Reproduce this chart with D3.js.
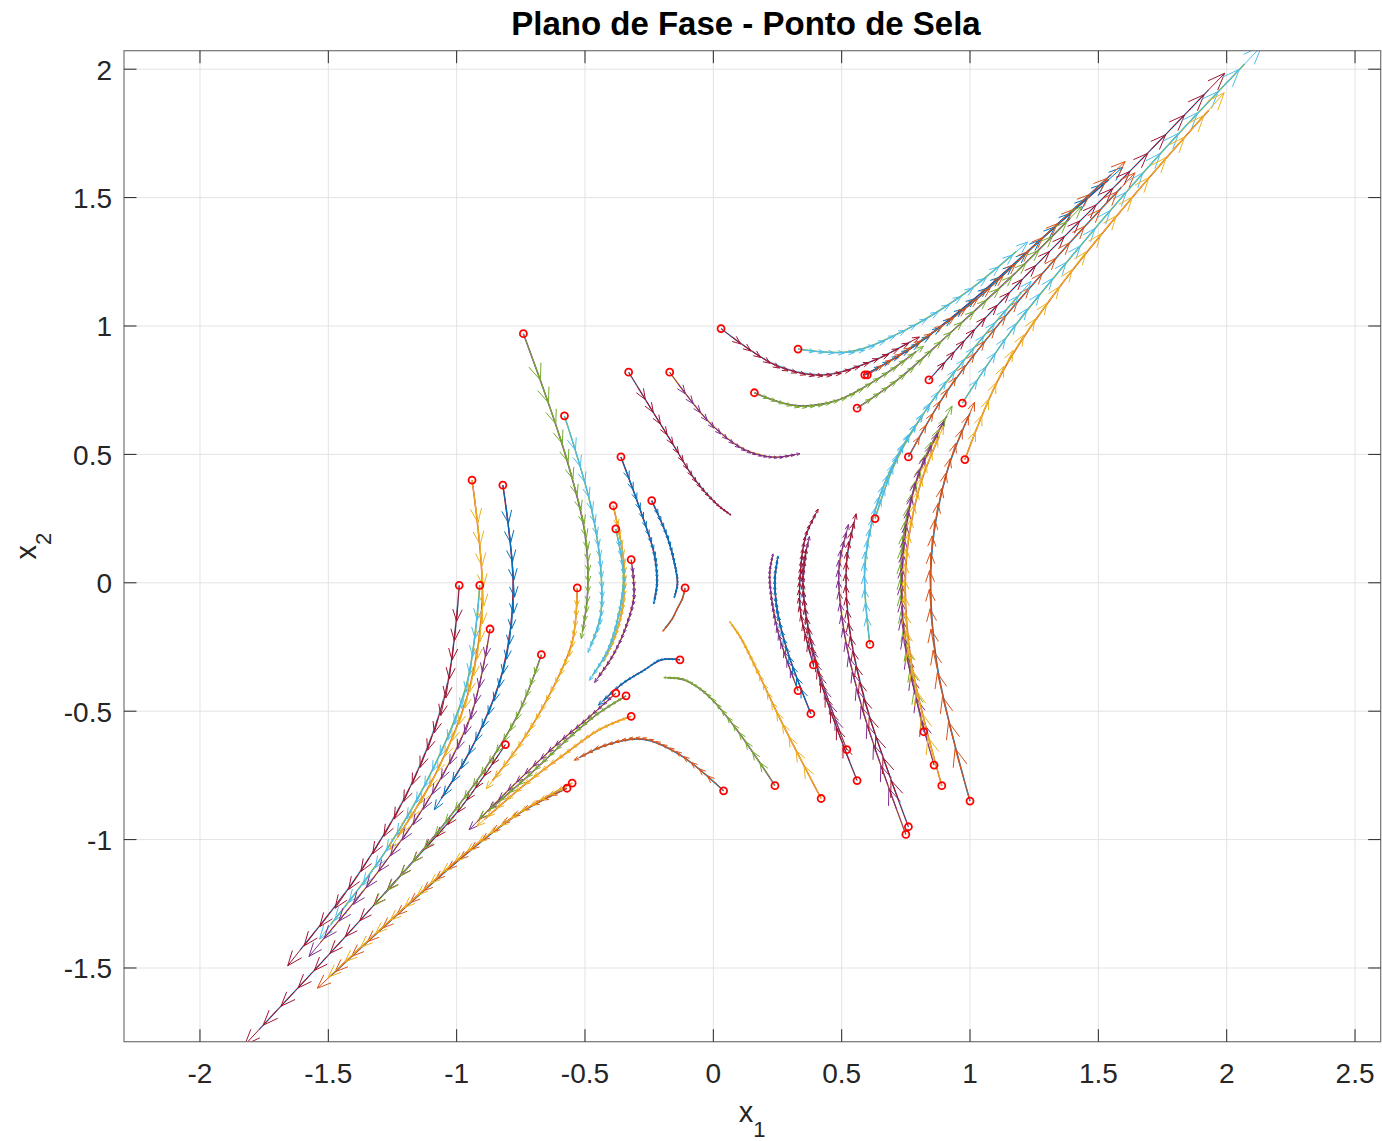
<!DOCTYPE html>
<html>
<head>
<meta charset="utf-8">
<script src="https://cdn.jsdelivr.net/npm/d3@7"></script>
<style>
  body { margin: 0; background: #fff; }
  svg { display: block; }
</style>
</head>
<body>
<div id="chart"></div>
<script>
// matlab colour order
const colorOrder = ["#0072BD", "#D95319", "#EDB120", "#7E2F8E", "#77AC30", "#4DBEEE", "#A2142F"];
const xTicks = [-2, -1.5, -1, -0.5, 0, 0.5, 1, 1.5, 2, 2.5];
const yTicks = [-1.5, -1, -0.5, 0, 0.5, 1, 1.5, 2];

// time of each read point along a trajectory
const trajT = [0, 0.225, 0.45, 0.675, 0.85];
// trajectories, first point = initial condition (red circle)
const trajX = [
  [-0.99, -1.04, -1.17, -1.38, -1.61],
  [-0.91, -0.96, -1.09, -1.28, -1.49],
  [-0.94, -0.90, -0.95, -1.08, -1.23],
  [-0.82, -0.78, -0.82, -0.93, -1.06],
  [-0.87, -0.94, -1.09, -1.31, -1.53],
  [-0.81, -0.98, -1.21, -1.50, -1.77],
  [-0.67, -0.76, -0.90, -1.09, -1.28],
  [-0.53, -0.55, -0.63, -0.74, -0.86],
  [-0.74, -0.58, -0.50, -0.49, -0.51],
  [-0.58, -0.48, -0.44, -0.44, -0.48],
  [-0.33, -0.17, -0.07, 0.01, 0.06],
  [-0.17, -0.01, 0.12, 0.23, 0.32],
  [-0.36, -0.28, -0.23, -0.22, -0.23],
  [-0.39, -0.35, -0.35, -0.38, -0.42],
  [-0.38, -0.35, -0.37, -0.41, -0.47],
  [-0.24, -0.18, -0.15, -0.14, -0.15],
  [-0.32, -0.31, -0.34, -0.39, -0.45],
  [-0.11, -0.12, -0.14, -0.16, -0.19],
  [-0.13, -0.20, -0.27, -0.35, -0.43],
  [-0.38, -0.48, -0.61, -0.77, -0.92],
  [-0.34, -0.45, -0.58, -0.73, -0.88],
  [-0.32, -0.44, -0.57, -0.74, -0.89],
  [-0.57, -0.76, -0.98, -1.24, -1.49],
  [-0.55, -0.73, -0.95, -1.21, -1.45],
  [0.04, -0.13, -0.27, -0.41, -0.52],
  [0.24, 0.09, -0.02, -0.11, -0.18],
  [0.42, 0.26, 0.17, 0.11, 0.07],
  [0.03, 0.24, 0.42, 0.61, 0.77],
  [0.33, 0.53, 0.74, 0.97, 1.18],
  [0.16, 0.32, 0.48, 0.65, 0.79],
  [0.59, 0.78, 1.01, 1.28, 1.54],
  [0.60, 0.79, 1.02, 1.29, 1.55],
  [0.56, 0.73, 0.92, 1.17, 1.39],
  [0.84, 1.04, 1.30, 1.63, 1.93],
  [0.97, 1.16, 1.42, 1.75, 2.07],
  [0.76, 0.90, 1.09, 1.34, 1.59],
  [0.98, 1.12, 1.34, 1.64, 1.93],
  [0.63, 0.71, 0.84, 1.02, 1.20],
  [0.61, 0.59, 0.63, 0.72, 0.82],
  [0.33, 0.26, 0.23, 0.22, 0.23],
  [0.38, 0.29, 0.25, 0.24, 0.25],
  [0.39, 0.34, 0.34, 0.36, 0.40],
  [0.52, 0.41, 0.36, 0.35, 0.37],
  [0.56, 0.43, 0.37, 0.35, 0.36],
  [0.82, 0.74, 0.74, 0.81, 0.91],
  [0.86, 0.75, 0.74, 0.79, 0.88],
  [0.89, 0.77, 0.75, 0.80, 0.88],
  [1.00, 0.87, 0.85, 0.91, 1.00],
  [0.75, 0.59, 0.51, 0.49, 0.52],
  [0.76, 0.60, 0.53, 0.52, 0.55]
];
const trajY = [
  [-0.01, -0.41, -0.77, -1.13, -1.43],
  [-0.01, -0.39, -0.72, -1.05, -1.33],
  [0.40, -0.05, -0.41, -0.74, -0.99],
  [0.38, -0.02, -0.34, -0.62, -0.84],
  [-0.18, -0.50, -0.81, -1.13, -1.40],
  [-0.63, -0.87, -1.13, -1.45, -1.74],
  [-0.28, -0.51, -0.74, -0.99, -1.21],
  [-0.02, -0.23, -0.42, -0.61, -0.77],
  [0.97, 0.51, 0.19, -0.04, -0.19],
  [0.65, 0.31, 0.07, -0.13, -0.25],
  [0.82, 0.56, 0.40, 0.31, 0.27],
  [0.82, 0.62, 0.52, 0.49, 0.50],
  [0.49, 0.27, 0.11, 0.00, -0.07],
  [0.30, 0.09, -0.07, -0.20, -0.29],
  [0.21, 0.02, -0.13, -0.26, -0.36],
  [0.32, 0.18, 0.07, 0.00, -0.05],
  [0.09, -0.05, -0.17, -0.28, -0.37],
  [-0.02, -0.06, -0.10, -0.14, -0.18],
  [-0.30, -0.30, -0.34, -0.39, -0.46],
  [-0.43, -0.52, -0.63, -0.78, -0.93],
  [-0.44, -0.51, -0.62, -0.76, -0.89],
  [-0.52, -0.57, -0.66, -0.79, -0.92],
  [-0.80, -0.90, -1.07, -1.30, -1.53],
  [-0.78, -0.88, -1.04, -1.27, -1.49],
  [-0.81, -0.67, -0.61, -0.63, -0.68],
  [-0.79, -0.57, -0.44, -0.38, -0.37],
  [-0.84, -0.53, -0.34, -0.22, -0.16],
  [0.99, 0.85, 0.81, 0.86, 0.94],
  [0.91, 0.90, 0.98, 1.12, 1.29],
  [0.74, 0.69, 0.71, 0.80, 0.90],
  [0.81, 0.92, 1.10, 1.34, 1.57],
  [0.81, 0.93, 1.10, 1.35, 1.59],
  [0.68, 0.80, 0.97, 1.20, 1.42],
  [0.79, 1.01, 1.28, 1.61, 1.92],
  [0.70, 0.98, 1.30, 1.68, 2.02],
  [0.49, 0.73, 0.98, 1.27, 1.54],
  [0.48, 0.81, 1.14, 1.51, 1.84],
  [0.25, 0.47, 0.69, 0.92, 1.13],
  [-0.24, 0.05, 0.28, 0.50, 0.66],
  [-0.42, -0.22, -0.08, 0.03, 0.10],
  [-0.51, -0.27, -0.11, 0.01, 0.09],
  [-0.32, -0.11, 0.05, 0.18, 0.27],
  [-0.65, -0.34, -0.11, 0.05, 0.16],
  [-0.77, -0.42, -0.18, 0.00, 0.11],
  [-0.58, -0.15, 0.17, 0.45, 0.65],
  [-0.71, -0.25, 0.10, 0.39, 0.59],
  [-0.79, -0.30, 0.06, 0.36, 0.57],
  [-0.85, -0.31, 0.10, 0.43, 0.66],
  [-0.98, -0.52, -0.19, 0.05, 0.20],
  [-0.95, -0.49, -0.17, 0.08, 0.24]
];
// colour index of each trajectory line, its arrows use the next colour
const lineColor = [5, 4, 1, 6, 2, 5, 3, 1, 3, 4, 5, 2, 6, 1, 4, 6, 2, 0, 6, 2, 3, 1, 0, 1, 0,
                   3, 1, 5, 4, 3, 6, 0, 3, 5, 4, 0, 1, 4, 4, 2, 6, 5, 2, 5, 3, 2, 1, 0, 2, 5];

const W = 1382, H = 1141;
const plotL = 124, plotR = 1380.7, plotT = 50.7, plotB = 1041.7;
const NSTEP = 20; // time steps along one trajectory, one arrow per step

const x = d3.scaleLinear().domain([-2.296, 2.600]).range([plotL, plotR]);
const y = d3.scaleLinear().domain([-1.787, 2.072]).range([plotB, plotT]);

const svg = d3.select("#chart").append("svg")
  .attr("width", W).attr("height", H)
  .style("font-family", "'Liberation Sans', Arial, Helvetica, sans-serif");

svg.append("defs").append("clipPath").attr("id", "clip")
  .append("rect")
  .attr("x", plotL).attr("y", plotT)
  .attr("width", plotR - plotL).attr("height", plotB - plotT);

// grid
const grid = svg.append("g").attr("stroke", "#e3e3e3").attr("stroke-width", 1);
xTicks.forEach(t => grid.append("line")
  .attr("x1", x(t)).attr("x2", x(t)).attr("y1", plotT).attr("y2", plotB));
yTicks.forEach(t => grid.append("line")
  .attr("x1", plotL).attr("x2", plotR).attr("y1", y(t)).attr("y2", y(t)));

const plot = svg.append("g").attr("clip-path", "url(#clip)");
const line = d3.line()
  .x(d => x(d[0])).y(d => y(d[1]))
  .curve(d3.curveCatmullRom.alpha(0.5));

function drawArrows(node, pts, color) {
  const total = node.getTotalLength();
  const px = pts.map(p => [x(p[0]), y(p[1])]);
  const nSeg = px.length - 1;
  const chord = d3.range(nSeg).map(k =>
    Math.hypot(px[k + 1][0] - px[k][0], px[k + 1][1] - px[k][1]));
  const dt = d3.range(nSeg).map(k => trajT[k + 1] - trajT[k]);
  const sv = chord.map((c, k) => c / dt[k]);
  const cum = [0];
  chord.forEach(c => cum.push(cum[cum.length - 1] + c));
  // speed at each read point
  const sp = px.map((p, k) => {
    if (k === 0) return sv[0] * Math.sqrt(sv[0] / sv[1]);
    if (k === nSeg) return sv[nSeg - 1] * Math.sqrt(sv[nSeg - 1] / sv[nSeg - 2]);
    return Math.sqrt(sv[k - 1] * sv[k]);
  });
  const tEnd = trajT[nSeg];
  // position along the path at each time step
  const sAt = d3.range(NSTEP + 1).map(j => {
    const t = j / NSTEP * tEnd;
    let k = 0;
    while (k < nSeg - 1 && t > trajT[k + 1]) k++;
    const u = Math.min(1, (t - trajT[k]) / dt[k]);
    const r = sp[k + 1] / sp[k];
    const f = Math.abs(r - 1) < 1e-6 ? u : (Math.pow(r, u) - 1) / (r - 1);
    return Math.min(total, (cum[k] + f * chord[k]) / cum[nSeg] * total);
  });
  const g = plot.append("g").attr("stroke", color).attr("stroke-width", 1).attr("fill", "none");
  for (let j = 0; j < NSTEP; j++) {
    const s = sAt[j];
    const p = node.getPointAtLength(s);
    const q = node.getPointAtLength(sAt[j + 1]);
    const p2 = node.getPointAtLength(Math.min(total, s + 0.6));
    const d = Math.hypot(p2.x - p.x, p2.y - p.y) || 1;
    const ux = (p2.x - p.x) / d, uy = (p2.y - p.y) / d;
    const L = 1.8 * Math.hypot(q.x - p.x, q.y - p.y);
    const tx = p.x + ux * L, ty = p.y + uy * L;
    const h = 0.33 * L, w = 0.13 * L;
    const bx = tx - ux * h, by = ty - uy * h;
    g.append("path").attr("d",
      `M${p.x},${p.y}L${tx},${ty}` +
      `M${bx - uy * w},${by + ux * w}L${tx},${ty}L${bx + uy * w},${by - ux * w}`);
  }
}

trajX.forEach((tx, i) => {
  const pts = tx.map((v, k) => [v, trajY[i][k]]);
  const c = lineColor[i];
  const path = plot.append("path")
    .attr("d", line(pts))
    .attr("fill", "none")
    .attr("stroke", colorOrder[c])
    .attr("stroke-width", 1.5);
  drawArrows(path.node(), pts, colorOrder[(c + 1) % 7]);
});

// initial conditions
plot.append("g").selectAll("circle")
  .data(trajX.map((tx, i) => [tx[0], trajY[i][0]]))
  .join("circle")
  .attr("cx", d => x(d[0])).attr("cy", d => y(d[1]))
  .attr("r", 3.5)
  .attr("fill", "none").attr("stroke", "#ff0000").attr("stroke-width", 1.8);

// axes box and ticks
const axisCol = "#262626";
svg.append("rect")
  .attr("x", plotL).attr("y", plotT)
  .attr("width", plotR - plotL).attr("height", plotB - plotT)
  .attr("fill", "none").attr("stroke", "#737373").attr("stroke-width", 1.2);

const tk = svg.append("g").attr("stroke", axisCol).attr("stroke-width", 1);
const tickLen = 12.5;
xTicks.forEach(t => {
  tk.append("line").attr("x1", x(t)).attr("x2", x(t)).attr("y1", plotB).attr("y2", plotB - tickLen);
  tk.append("line").attr("x1", x(t)).attr("x2", x(t)).attr("y1", plotT).attr("y2", plotT + tickLen);
});
yTicks.forEach(t => {
  tk.append("line").attr("x1", plotL).attr("x2", plotL + tickLen).attr("y1", y(t)).attr("y2", y(t));
  tk.append("line").attr("x1", plotR).attr("x2", plotR - tickLen).attr("y1", y(t)).attr("y2", y(t));
});

svg.append("g").selectAll("text")
  .data(xTicks).join("text")
  .attr("x", d => x(d)).attr("y", 1082.5)
  .attr("text-anchor", "middle")
  .attr("font-size", 28).attr("fill", axisCol)
  .text(d => String(d));

svg.append("g").selectAll("text")
  .data(yTicks).join("text")
  .attr("x", 112).attr("y", d => y(d) + 10.5)
  .attr("text-anchor", "end")
  .attr("font-size", 28).attr("fill", axisCol)
  .text(d => String(d));

// title
svg.append("text")
  .attr("x", 746).attr("y", 35)
  .attr("text-anchor", "middle")
  .attr("font-size", 33).attr("font-weight", "bold").attr("fill", "#000")
  .text("Plano de Fase - Ponto de Sela");

// axis labels with subscripts
const xl = svg.append("text")
  .attr("x", 752).attr("y", 1122)
  .attr("text-anchor", "middle").attr("fill", axisCol);
xl.append("tspan").attr("font-size", 29).text("x");
xl.append("tspan").attr("font-size", 22).attr("dy", 15).text("1");

const yl = svg.append("text")
  .attr("transform", "translate(36,546) rotate(-90)")
  .attr("text-anchor", "middle").attr("fill", axisCol);
yl.append("tspan").attr("font-size", 29).text("x");
yl.append("tspan").attr("font-size", 22).attr("dy", 15).text("2");
</script>
</body>
</html>
